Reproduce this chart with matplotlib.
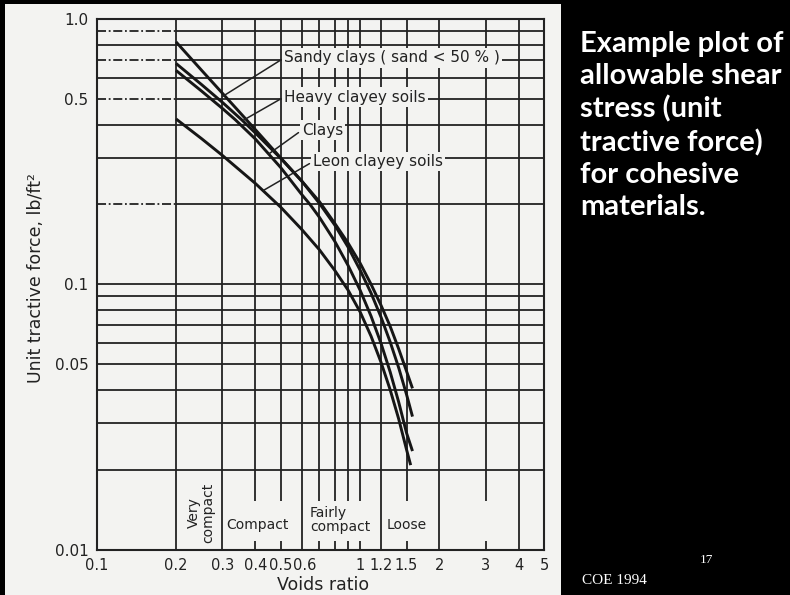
#!/usr/bin/env python
# slide: allowable tractive force vs voids ratio for cohesive soils (COE 1994)
import matplotlib
matplotlib.use('Agg')
import matplotlib.pyplot as plt
from matplotlib.ticker import NullLocator
from matplotlib.transforms import ScaledTranslation

# curves: voids ratio -> unit tractive force (lb/ft^2)
sandy_x = [0.2, 0.25, 0.3, 0.4, 0.5, 0.6, 0.7, 0.8, 0.9, 1.0, 1.1, 1.2, 1.3, 1.4, 1.5, 1.58]
sandy_y = [0.82, 0.641, 0.525, 0.383, 0.299, 0.245, 0.205, 0.170, 0.143, 0.120, 0.100, 0.0833, 0.0694, 0.0571, 0.047, 0.0405]

heavy_x = [0.2, 0.25, 0.3, 0.355, 0.4, 0.5, 0.6, 0.7, 0.8, 0.9, 1.0, 1.1, 1.2, 1.3, 1.4, 1.5, 1.58]
heavy_y = [0.68, 0.566, 0.485, 0.417, 0.372, 0.298, 0.245, 0.202, 0.1675, 0.138, 0.113, 0.0926, 0.0752, 0.0606, 0.0485, 0.0384, 0.0317]

clays_x = [0.2, 0.25, 0.3, 0.335, 0.4, 0.5, 0.6, 0.645, 0.7, 0.8, 0.9, 1.0, 1.1, 1.2, 1.3, 1.4, 1.5, 1.58]
clays_y = [0.64, 0.535, 0.46, 0.418, 0.353, 0.275, 0.218, 0.200, 0.179, 0.1455, 0.1177, 0.0949, 0.0758, 0.0599, 0.0467, 0.036, 0.0275, 0.0235]

leon_x = [0.2, 0.25, 0.3, 0.4, 0.5, 0.6, 0.7, 0.8, 0.9, 1.0, 1.1, 1.2, 1.3, 1.4, 1.5, 1.555]
leon_y = [0.42, 0.354, 0.306, 0.240, 0.195, 0.161, 0.135, 0.113, 0.095, 0.0786, 0.0637, 0.0508, 0.040, 0.0311, 0.0238, 0.0208]

# ticks and grid of the printed chart
xtick_vals = [0.1, 0.2, 0.3, 0.4, 0.5, 0.6, 1, 1.2, 1.5, 2, 3, 4, 5]
xtick_labels = ['0.1', '0.2', '0.3', '0.4', '0.5', '0.6', '1', '1.2', '1.5', '2', '3', '4', '5']
ytick_vals = [0.01, 0.05, 0.1, 0.5, 1.0]
ytick_labels = ['0.01', '0.05', '0.1', '0.5', '1.0']

vgrid_full = [0.2, 0.3, 0.6, 1.2, 2, 4]
vgrid_part = [0.4, 0.5, 0.7, 0.8, 0.9, 1.0, 1.5, 3]
hgrid = [0.02, 0.03, 0.04, 0.05, 0.06, 0.07, 0.08, 0.09,
         0.1, 0.2, 0.3, 0.4, 0.5, 0.6, 0.7, 0.8, 0.9]
hgrid_dashed_left = [0.9, 0.7, 0.5, 0.2]

ink = '#222222'
paper = '#f3f3f1'

fig = plt.figure(figsize=(7.9, 5.95), dpi=100, facecolor='black')

# scanned page behind the chart
bg = fig.add_axes([5 / 790, 0, 556 / 790, 591 / 595])
bg.set_facecolor(paper)
bg.set_xticks([])
bg.set_yticks([])
for s in bg.spines.values():
    s.set_visible(False)

ax = fig.add_axes([96.7 / 790, (595 - 549.5) / 595, 447.6 / 790, 530.5 / 595])
ax.set_facecolor('none')
ax.set_xscale('log')
ax.set_yscale('log')
ax.set_xlim(0.1, 5)
ax.set_ylim(0.01, 1)

# grid lines
gl = dict(colors=ink, linewidth=1.3, zorder=1)
ax.vlines(vgrid_full, 0.01, 1, **gl)
ax.vlines(vgrid_part, 0.0152, 1, **gl)
ax.vlines(vgrid_part, 0.01, 0.0108, **gl)
solid_h = [h for h in hgrid if h not in hgrid_dashed_left]
ax.hlines(solid_h, 0.1, 5, **gl)
ax.hlines(hgrid_dashed_left, 0.2, 5, **gl)
ax.hlines(hgrid_dashed_left, 0.1, 0.2, colors=ink, linewidth=1.3,
          linestyles=(0, (5, 1.5, 1, 1.5)), zorder=1)

# soil curves
for xs, ys in [(sandy_x, sandy_y), (heavy_x, heavy_y), (clays_x, clays_y), (leon_x, leon_y)]:
    ax.plot(xs, ys, color='#161616', linewidth=2.1, zorder=3, solid_capstyle='butt')

# curve labels with leader lines
labels = [
    ('Sandy clays ( sand < 50 % )', (0.30, 0.51), (0.514, 0.713)),
    ('Heavy clayey soils', (0.36, 0.415), (0.514, 0.508)),
    ('Clays', (0.45, 0.31), (0.601, 0.381)),
    ('Leon clayey soils', (0.43, 0.226), (0.662, 0.290)),
]
for txt, xy, xyt in labels:
    ax.annotate(txt, xy=xy, xytext=xyt, textcoords='data', ha='left', va='center',
                fontsize=11, color=ink, zorder=5,
                bbox=dict(boxstyle='square,pad=0.15', fc=paper, ec='none'),
                arrowprops=dict(arrowstyle='-', color=ink, lw=1.1, relpos=(0, 0.5),
                                shrinkA=1, shrinkB=0))

# compaction classes along the bottom
ax.text(0.249, 0.0138, 'Very\ncompact', rotation=90, ha='center', va='center',
        fontsize=10, color=ink, linespacing=0.95)
ax.text(0.409, 0.01236, 'Compact', ha='center', va='center', fontsize=10, color=ink)
ax.text(0.645, 0.0129, 'Fairly\ncompact', ha='left', va='center', fontsize=10,
        color=ink, linespacing=0.95)
ax.text(1.505, 0.01236, 'Loose', ha='center', va='center', fontsize=10, color=ink)

ax.set_xticks(xtick_vals, labels=xtick_labels)
ax.set_yticks(ytick_vals, labels=ytick_labels)
ax.xaxis.set_minor_locator(NullLocator())
ax.yaxis.set_minor_locator(NullLocator())
ax.tick_params(length=0, labelcolor=ink)
ax.tick_params(axis='x', pad=6, labelsize=10.5)
ax.tick_params(axis='y', pad=6, labelsize=11)
# the printed 0.6 sits a touch right of its line, clear of 0.5
lab06 = ax.get_xticklabels()[5]
lab06.set_transform(lab06.get_transform() + ScaledTranslation(3 / 100, 0, fig.dpi_scale_trans))
for s in ax.spines.values():
    s.set_color(ink)
    s.set_linewidth(1.5)

fig.text(36 / 790, 1 - 278 / 595, 'Unit tractive force, lb/ft\u00b2', rotation=90,
         ha='center', va='center', fontsize=12.5, color=ink)
fig.text(323 / 790, 1 - 585 / 595, 'Voids ratio', ha='center', va='center',
         fontsize=12.5, color=ink)

# slide text on the right
fig.text(580 / 790, 1 - 31 / 595,
         'Example plot of\nallowable shear\nstress (unit\ntractive force)\nfor cohesive\nmaterials.',
         ha='left', va='top', color='white', fontsize=21, fontweight='bold',
         family=['Lato', 'DejaVu Sans'], linespacing=1.29)
fig.text(582 / 790, 1 - 581 / 595, 'COE 1994', ha='left', va='center', color='white',
         fontsize=11, family=['Liberation Serif', 'DejaVu Serif'])
fig.text(700 / 790, 1 - 560 / 595, '17', ha='left', va='center', color='white',
         fontsize=9.5, family=['Liberation Serif', 'DejaVu Serif'])

fig.savefig('out.png', dpi=100, facecolor='black')
